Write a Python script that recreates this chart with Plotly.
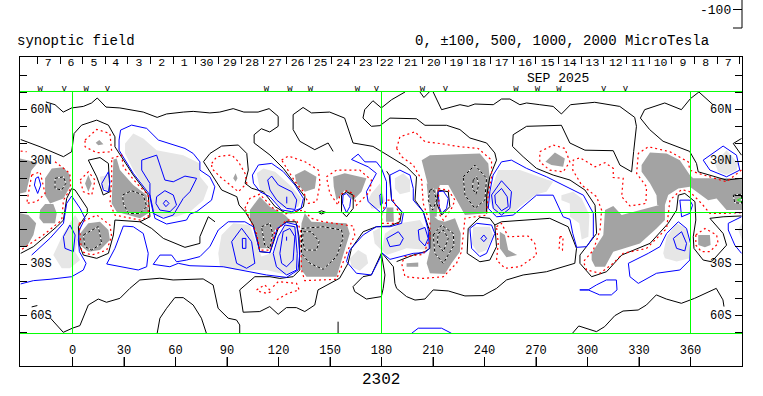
import plotly.graph_objects as go

FONT = "Liberation Mono"
BLACK, BLUE, RED, GREEN = "#000000", "#0000ff", "#ff0000", "#00ff00"
DARK, LIGHT = "#a3a3a3", "#e6e6e6"

# ---- tick labels and annotations ----
lon_ticks = [0, 30, 60, 90, 120, 150, 180, 210, 240, 270, 300, 330, 360]
lat_ticks = list(range(-80, 81, 10))
day_ticks = [-20.5, -7.3, 5.9, 19.1, 32.3, 45.5, 58.7, 71.9, 85.1, 98.3, 111.5, 124.7, 137.9, 151.1, 164.3, 177.5,
             190.7, 203.9, 217.1, 230.3, 243.5, 256.7, 269.9, 283.1, 296.3, 309.5, 322.7, 335.9, 349.1, 362.3, 375.5, 388.7]
day_labels = ["7", "6", "5", "4", "3", "2", "1", "30", "29", "28", "27", "26", "25", "24", "23",
              "22", "21", "20", "19", "18", "17", "16", "15", "14", "13", "12", "11", "10", "9", "8", "7"]
day_centers = [-14.1, -0.9, 12.5, 25.1, 38.7, 52, 65.1, 78.1, 91.7, 104.7, 117.9, 131.1, 144.5, 157.7, 170.9,
               183, 197.1, 210.5, 223.7, 236.9, 250.1, 263.7, 276.8, 289.7, 302.9, 316.5, 329.5, 342.6, 355.6, 368.8, 382]
mark_lons = [-18.9, -4.8, 7.9, 20.3, 113, 126.6, 138.6, 166, 177, 203.9, 217.3, 258.3, 270.9, 283.3, 309.5, 322.1]
mark_kinds = ["w", "v", "w", "v", "w", "w", "w", "w", "v", "w", "v", "w", "w", "w", "v", "v"]
lat_label_text = ["60N", "30N", "30S", "60S"]
lat_label_vals = [60, 30, -30, -60]

# ---- zero-level contour lines (lon, lat in degrees) ----
zero_lines = [
    [(-15.5,64.4),(-10.2,62.8),(-5.4,58.5),(-0.5,60.9),(6.3,61.8),(11.1,63.8),(14.4,66.7),(19.5,61.4),(27.6,60.9),
     (33.4,59.9),(41.2,58.5),(49.3,55.4),(54.8,57.4),(64.5,58.5),(70.3,58.9),(80,58),(85.8,58.5),(93.6,60.5),(99.8,58.5),
     (108.1,58.5),(114.5,60.5),(119.8,56),(119.8,50.2),(114.9,46.9),(110,48.8),(105.8,45.3),(105.8,40.5),(115,33.5),
     (122.8,25.7),(128.6,18),(135.4,9.2),(134.5,3.4),(129.6,-0.1),(123.8,-0.1),(118,3.4),(111.2,12.1),(104.4,14.1),
     (100.5,17),(102.4,24.7),(101.5,34.4),(96.6,39.3),(86.9,38.7),(80.1,34.4),(76.3,29.6),(81.1,21.8),(86.9,13.1),
     (95.7,9.2),(97,4.4),(100.5,0.5),(105.3,-7.3),(107.2,-14.1),(109.1,-22.8),(115,-23.4),(117.9,-14.1),(119.8,-9.3),
     (124.7,-5.4),(130.1,-5.4),(132,-14.1),(132.4,-33.5),(128.5,-37.4),(120.8,-38.4),(115,-37.4),(106.2,-37.4),(97.4,-45.1),
     (99.4,-58.1),(109.1,-57.7),(114.9,-54.8),(119.8,-59.3),(124.6,-55.4),(130.4,-55.4),(135.3,-57.7),(141.1,-53.9),
     (143,-45.1),(155.6,-38.3),(160.5,-29.6),(162.5,-20.9),(169.3,-11.2),(177,-8.3),(184.8,-7.9),(190.7,-5.4),(191.7,0.5),
     (185.9,7.2),(184.5,21.8),(183,24)],
    [(-23.8,-55),(-20.5,-54.2)],
    [(-12.8,-61.6),(-5.4,-69.8),(-0.1,-67.4),(4.3,-65.9),(9.2,-53.9),(15,-50.4),(19.8,-52.3),(27.6,-50),(33.4,-44.2),
     (39.2,-39.3),(50.9,-38.3),(58.6,-39.3),(76.1,-38.7),(81.9,-42.2),(84.8,-55.8),(90.7,-61.6),(95.5,-62.6),(97.4,-65.5),(97.4,-70.4)],
    [(49.3,-70.4),(50.9,-61.6),(54.8,-55.8),(59.6,-49.6),(64.5,-49.6),(70.3,-53.9),(75.1,-61.6),(78,-70.4)],
    [(154.7,-63.6),(154.7,-70.4)],
    [(180.1,-23.4),(186.9,-31.6),(187.8,-41.3),(188.8,-44.2),(194.6,-49),(199.5,-51),(205.3,-50.4),(210.1,-45.1),
     (218.9,-45.7),(228.6,-48.6),(239.2,-48.4),(247,-44.2),(252.8,-39.3),(262.5,-36.4),(276.1,-34.5),(292.6,-29.6),
     (293.6,-20.9),(288.7,-8.3),(278,-3.4),(260.6,-4.4),(249.9,-5.4),(246,-7.3),(243.1,-3.4),(237.3,-2.8),(230.5,-9.3),
     (229.9,-23.8),(237.3,-28.7),(243.1,-27.7),(247,-19.9),(246,-7.3)],
    [(193.7,70.2),(185.9,65.7),(179.9,60.9),(175,65.1),(170.2,59.9),(169.2,55),(174.1,50.2),(179.1,50.6),(184.9,55),
     (200.4,54.6),(205.3,50.8),(217.9,50.8),(225.7,48.3),(231.5,43.4),(241.2,40.5),(246,34.7),(247,30.5),(243.1,20.8),
     (241.2,9.2),(241.2,-0.5)],
    [(151.8,35.6),(148.9,40.5),(141.1,36.6),(132.4,41.5),(128.5,48.3),(128.5,57),(134.3,61.2),(139.2,58),(149.8,58.5),
     (158.5,55),(163.4,40.5),(175,38.5),(179.9,35.6),(186.9,31.5),(194.6,26.6),(200.4,20.8),(199.5,7.2),(204.3,0.5),
     (208.2,-11.2),(208.2,-20.9),(205.3,-22.8),(198.5,-24.8),(188.8,-28.6)],
    [(202.4,70.2),(204.7,67),(207.8,70.2)],
    [(210.1,70.2),(215,59.9),(225.7,62.8),(230.5,61.8),(234.4,63.2),(245.1,62.8),(249.9,66.1),(254.8,66.1),(260.6,62.8),
     (264.5,63.8),(272.2,62.8),(280,61.8),(284.8,57.4),(290.1,62.8),(304.2,64.2),(318.8,61.8),(327.5,55.4),(328.5,50.2),
     (326.9,35.6),(325.7,23.7),(318.9,27.6),(315,36),(298.5,36.3),(289.7,40.5),(284.8,50.8),(264.5,50.2),(256.7,45.3),
     (256.3,38.5),(262.5,32.5),(270.3,25.7),(280,21.8),(289.8,18.9),(298.5,13.1),(304.4,4.3),(305.3,-12.2),(295.6,-24.8),
     (295.6,-29.6),(302.4,-37.4),(311.1,-34.5),(319.9,-24.8),(336.4,-18),(347,-6.3),(351.9,1.4),(352.9,10.1),(356.7,11.1),
     (362.6,6.3),(363.1,-4.4),(361.6,-14.1),(362,-20.9),(367.4,-27.7),(372.3,-28.7),(381,-19),(379,-12.2),(371.3,-3.4),
     (379,-2.5),(389.7,-2)],
    [(373.1,62.8),(364.9,70.2),(359.9,66.3),(354.7,59.9),(345,63.8),(333.3,59.9),(330.8,55),(336.2,48.3),(344,41.5),
     (359.5,35.6),(363.5,28.6),(364.5,23.7),(381,18.9),(389.7,19.9)],
    [(389.7,43.1),(384.9,40.2),(389.7,33.4)],
    [(-30.2,42.5),(-18.9,38.3),(-5.3,32.5),(-0.5,35.4),(0.9,46),(5.3,50.9),(14.1,53.8),(20.9,50.9),(24.7,44.1),(24.7,38.3),
     (35.4,21.8),(44.1,10.2),(45.1,-2.5),(39.3,-5.4),(24.7,-4.4),(23.8,-13.1),(20.9,-23.8),(14.1,-26.7),(6.3,-24.8),(4,-19),
     (3.4,-8.3),(8.6,-0.5),(8.6,2.4),(1.5,13.1),(-0.5,14),(-3.4,8.2),(-5.3,-4.4),(-9.2,-8.3),(-22.8,-19.9),(-30.2,-23.8)],
    [(39.3,-5.4),(46.1,-9.3),(52.9,-15.1),(60.6,-18.4),(65.5,-20.3),(74.2,-18),(74.2,-14.1),(79.1,-2.5),(83,-5.4)],
    [(291.2,-70.4),(294.9,-66.1),(305.2,-69.4),(310,-66.5),(315.9,-60.1),(320.7,-57.4),(329.5,-56.8),(334.3,-53.9),
     (340.1,-48),(345.9,-50.4),(354.7,-52.9),(362.4,-50),(375,-44.2),(378.9,-50.9),(379.5,-54.8)],
]
zero_loops = [
    [(179.9,-49),(171.2,-50.4),(164.4,-46.1),(163.4,-43.2),(169.2,-37.4),(174.1,-36.4),(179.9,-23.8),(182,-36.4),(181,-44.2)],
    [(9.2,30.5),(16,32),(20.9,28.6),(21.8,12.1),(17.9,10.2),(14.1,20.8)],
    [(156.7,10.1),(159.6,12.1),(163.5,10.1),(163.5,2.4),(159.6,-2.5),(156.7,0.5)],
    [(143.1,0.1),(145,1),(147.4,0.1),(145,-0.9)],
    [(213,13.1),(218.9,12.1),(219.8,3.4),(215,-1.5),(212.1,5.3)],
]

# ---- positive contours ----
pos_lines = [
    [(-30.2,-41.6),(-22.8,-39.7),(-13.1,-38.9),(-0.5,-37.4),(6.3,-33.5),(7.9,-29.6),(4,-22.8),(3.4,-16),(4,-10.2),(7.3,-3.4),
     (4.4,2.4),(-0.5,9.6),(-3.4,5.3),(-5.3,-6.3),(-13.1,-15),(-23.8,-24.8)],
    [(184.9,21.8),(185.9,7.2),(192.7,-0.5),(191.7,-6.3),(185,-8.3),(177,-8.3),(169.3,-13.1),(161.5,-21.9),(159.6,-28.6),
     (165.4,-35.4),(174.1,-36.4),(180.5,-23.8)],
    [(184.9,21.8),(190.7,24.7),(196.6,21.8),(198.5,14),(198.5,7.2),(204.3,0.5),(207.2,-10.2),(207.8,-20.9),(205.3,-23.4),
     (198.5,-23.8),(184.9,-27.3),(180.1,-23.4)],
    [(124.8,9.2),(124.8,5.3)],
    [(124.7,-14.1),(124.7,-16.4)],
    [(197.5,-70.4),(201.4,-67.4),(215,-67.4),(220.8,-70.4)],
    [(382,-6.3),(385.8,-4.4),(389.7,-2.5)],
    [(389.7,-23.8),(385.8,-19),(382,-10.2),(382,-6.3)],
]
pos_loops = [
    [(27.1,42.2),(28,48),(34.4,50.9),(43.2,49),(50,42.2),(65.5,37.3),(70.3,34.4),(74.2,29.5),(74.2,24.7),(80,20.8),(82.9,15),
     (81,7.2),(72.3,0.5),(68.4,-0.9),(66.4,-4.4),(54.8,-6.7),(48,-3.4),(45.1,10.2),(35.4,22.8),(27.1,36.3)],
    [(40.3,30.5),(49,33.4),(53.8,18.9),(58.7,17.9),(65.5,21.2),(72.3,19.9),(68.4,12.1),(64.5,8.2),(58.7,-1.5),(52.9,-3.4),
     (47,-0.5),(45.1,9.2),(45.1,16.9),(40.3,24.7)],
    [(49,9.2),(53.8,12.7),(58.7,10.2),(60.6,4.3),(56.8,0.5),(50.9,1.4),(48.6,5.3)],
    [(52.9,5.3),(54.4,7.2),(56.2,5.3),(54.4,3.4)],
    [(-1.5,-7.3),(-5.3,-14.1),(-4.4,-20.9),(0.5,-22.8),(1.5,-13.1)],
    [(17,16.9),(20.9,23.7),(21.8,17.9),(20.9,12.1),(18,13)],
    [(-21.4,19.9),(-19.9,20.8),(-18.5,16),(-20.3,11.1),(-22.2,16)],
    [(24.7,-20.9),(29.6,-7.9),(35.4,-8.3),(41.2,-12.2),(44.1,-23.8),(43.2,-31.6),(38.3,-33.5),(19.9,-30)],
    [(74.2,-25.7),(80,-19.9),(84.9,-10.2),(90.7,-5.4),(100.4,-5.4),(105.3,-8.3),(109.1,-22.8),(115,-23.4),(119.2,-9.3),
     (124.7,-5.8),(130.9,-7.3),(132.4,-23.8),(131.4,-33.5),(124.7,-37.8),(113,-36.4),(103.3,-34.5),(87.8,-31.6),(68.4,-31),
     (61.6,-29.6),(56.7,-31.6),(47,-30.2),(50.9,-24.8),(57.7,-24.8),(60.6,-28.7),(66.4,-27.7)],
    [(92.7,-17),(98.5,-9.2),(104.3,-17),(106.2,-29.6),(101.4,-32.5),(95.6,-29.6)],
    [(98.9,-15.1),(101,-15.1),(101,-20.9),(99,-20.9)],
    [(116.9,-23.8),(119.8,-14.1),(123.7,-7.3),(129.5,-8.3),(130.9,-23.8),(130.5,-33.5),(124.7,-36.4),(118.8,-31.6)],
    [(120.8,-23.8),(122.7,-11.2),(126.6,-9.3),(129.5,-14.1),(128.5,-27.7),(124.7,-31.6),(121.8,-29.6)],
    [(104.8,21.8),(108.3,27.7),(116,28.6),(122.8,23.8),(129.6,16),(134.5,8.2),(133.1,2.4),(127.7,0.5),(121.8,1.5),(115,9.2),
     (109.2,12.1),(105.4,17)],
    [(113.7,18.9),(116,21.2),(119.9,16),(127.7,12.1),(130.6,7.3),(129.6,1.8),(124.8,2.4),(118.9,7.3),(115,13.1)],
    [(162.5,30.9),(166.4,34),(170.3,29.5),(177,29.5),(180,25.7),(182.9,17.9),(182.9,3.4),(180,-0.5),(172.2,6.3),(171.2,12.1),
     (177,22.8),(172.2,26.6)],
    [(179,10.2),(180,11.1),(180.5,5.3),(179.4,4.3)],
    [(157.6,10.2),(159.6,11.1),(162.1,8.2),(161.5,3.4),(159.6,-0.1),(157.3,5.3)],
    [(183,-15.1),(189.8,-11.2),(192.7,-15.1),(190.7,-18.9),(184.9,-19.9)],
    [(201.4,-10.2),(205.3,-8.7),(207.2,-15.1),(205.3,-19.5),(202,-16)],
    [(213,12.1),(216,12.5),(218.9,8.2),(217.9,2.4),(215,-0.5),(213.6,3.4)],
    [(231.5,-9.3),(235.4,-6.3),(244.1,-7.3),(246,-12.2),(241.2,-23.8),(237.3,-25.7),(232.5,-20.9)],
    [(237.9,-15.1),(239.6,-13.1),(241.2,-15.1),(239.6,-17)],
    [(242.2,2.4),(243.1,12.1),(245,21.8),(249.9,29.5),(255.7,30.5),(264.5,25.7),(276.1,20.8),(289.7,14),(297.6,10.1),(303.4,-0.5),
     (303.4,-14.1),(299.5,-19.9),(293.7,-20.3),(291.4,-12.2),(289.8,-4),(285.8,-2.5),(280,10.1),(270.3,10.1),(256.7,-1.5),(247,-2.5)],
    [(244.1,10.2),(249.9,18.5),(255.7,12.1),(254.8,2.4),(249.9,-1.5),(245.1,2.4)],
    [(246,10.2),(249.9,14),(253.2,9.2),(253.8,3.4),(249.9,1),(246.4,5.3)],
    [(295.5,-45.1),(300.4,-45.1),(305.2,-42.2),(311,-39.3),(316.8,-39.3),(317.2,-45.1),(313.9,-48),(307.1,-48),(300.4,-45.1)],
    [(323.8,-29.6),(324.7,-37.4),(329.6,-41.3),(340.2,-35.4),(353.8,-33.5),(359.6,-27.7),(360,-18),(357.7,-9.3),(352.9,-5.4),
     (346.1,-12.2),(342.2,-19.9),(335.4,-23.8)],
    [(350,-15.1),(354.8,-11.2),(357.7,-18),(356.7,-22.4),(351.9,-20.9)],
    [(353.8,7.2),(359.6,7.2),(361.2,4.3),(359.6,-0.5),(354.8,-2.5)],
    [(367.4,30.5),(379,38.7),(386.8,33.4),(388.7,24.7),(381,20.8),(371.3,24.7)],
]

# ---- negative contours (dotted red) ----
neg_lines = [
    [(-30.2,35.8),(-26.7,35.4)],
    [(-10.2,29.6),(-1.5,22.8),(-1.1,14),(-5.3,7.2),(-6.3,-4.4),(-17,-13.1),(-30.2,-21.9)],
    [(116.9,-43.2),(119.8,-40.3),(130.5,-41.3),(132,-45.1),(125.6,-47.1),(118.8,-51)],
    [(389.7,24.7),(381,17.9),(364.5,22.8),(359.6,24.7),(358.7,29.5),(348,35.4),(335.4,38.3),(329.6,34.4),(328.6,22.8),(334.4,15),
     (334,5.3),(324.7,3.8),(319.9,9.2),(320.8,19.9),(315,20.4),(315,25.7),(310.2,29),(304.4,26.6),(295.6,31.9),(291.7,30.5),
     (291.4,24.7),(296.6,16),(305.3,9.2),(308.2,1.4),(307.3,-10.2),(303.4,-21.9),(297.6,-28.6),(299.5,-33.5),(307.3,-35.4),
     (315,-29.6),(320.8,-23.8),(334.4,-20.9),(346.1,-9.3),(348,7.2),(354.8,13.4),(359.6,12.1),(366.4,5.3),(371.3,-0.5),(381,-0.5),(389.7,-0.1)],
]
neg_loops = [
    [(7.3,42.2),(14.1,48.4),(21.8,46),(22.8,35.4),(14.1,34.8),(7.3,38.3)],
    [(4.4,18.9),(9.2,23.7),(13.1,18.9),(11.2,10.2),(6.3,12.1)],
    [(-23.8,21.8),(-18.9,23.7),(-16,11.1),(-20.9,6.3),(-26.7,5.3),(-24.7,17)],
    [(22.8,31.5),(28.6,33.4),(29.6,26.6),(37.3,17),(44.1,10.2),(44.1,-2.5),(39.3,-4.4),(24.7,-1.5),(21.8,5.3),(22.8,18.9)],
    [(3.8,-6.3),(14.1,-1.5),(21.8,-7.3),(22.8,-14.1),(19.9,-21.9),(11.2,-24.8),(5.3,-22.8),(4.4,-14.1)],
    [(81.1,28.6),(84,32.5),(92.7,33.5),(96.6,29.6),(100.5,22.8),(101.5,17),(96.6,12.1),(90.8,17),(85.9,20.9),(81.1,25.7)],
    [(121.8,30.6),(125.7,32.9),(135.4,29.6),(143.2,24.7),(144.2,17),(142.2,6.3),(137.4,5.3),(134.5,12.1),(129.6,18),(125.7,24.7)],
    [(100.4,2.4),(103.3,8.2),(109.1,10.7),(116.9,2.4),(123.7,-0.9),(134.4,1.4),(139.2,-3.4),(146,-5.4),(163.5,-7.9),(164.4,-13.1),
     (159.6,-23.8),(153.8,-38.9),(135.3,-39.7),(133.4,-33.5),(132.8,-10.2),(130.5,-4.4),(124.7,-4.4),(117.9,-11.2),(115,-21.9),
     (109.1,-21.9),(107.2,-12.2),(104.3,-6.3)],
    [(147.9,20.8),(153.8,24.7),(167.3,24.7),(174.1,18.9),(173.2,12.1),(165.4,4.3),(163.5,11.1),(159.6,12.7),(155.7,10.1),(154.7,4.3),(149.9,11.1)],
    [(107.2,-45.1),(112,-42.2),(115.9,-46.1),(113,-47.1),(109.1,-46.1)],
    [(180.1,-0.5),(183,7.2),(186.9,7.2),(190.7,-1.5),(189.8,-6.3),(180.1,-6.3)],
    [(188.8,37.3),(190.7,44.1),(199.5,47),(205.3,41.2),(214,40.2),(225.7,38.3),(236.3,37.3),(244.1,30.5),(244.1,20.8),(242.2,11.1),
     (241.2,-1.5),(228.6,-3.4),(226.6,-22.8),(223.7,-29.6),(216,-37.4),(204.3,-38.4),(193.7,-37.4),(191.7,-29.6),(193.7,-25.7),
     (204.3,-24.4),(208.2,-15.1),(208.2,-6.3),(204.3,5.3),(203.4,18.9),(198.5,27.6),(191.7,32.5)],
    [(213,14),(218.9,13),(222.8,7.2),(220.8,2.4),(216,-4.4),(214,-1.5)],
    [(247,-8.3),(249.9,-6.3),(253.8,-14.1),(265.4,-13.7),(269.3,-18),(270.3,-24.8),(260.6,-31.6),(251.9,-32.5),(247,-27.7),(248,-18)],
    [(283.9,-14.1),(285.8,-14.1),(285.4,-21.9),(283.5,-20.9)],
    [(272.2,35.4),(280,39.3),(286.8,37.3),(289.7,29.5),(285.8,23.7),(278,24.7),(272.2,29.5)],
    [(363.1,-13.1),(368.4,-9.3),(375.2,-13.1),(376.1,-18),(371.3,-22.8),(366.4,-22.8),(363.1,-19)],
]

# ---- strongest negative contours (black and white dashes) ----
strong_neg_loops = [
    [(-10.2,19.9),(-5.3,20.8),(-3.9,17),(-6.3,13.1),(-10.2,14)],
    [(29.2,10.2),(34.4,12.7),(41.2,10.2),(43.2,3.4),(39.3,-0.5),(32.5,-0.5),(29.6,5.3)],
    [(6.3,-13.1),(15,-8.2),(17,-18),(11.2,-21.9),(7.3,-19.9)],
    [(110.1,-8.3),(115,-6.3),(116.5,-12.2),(115,-20.9),(112,-19)],
    [(133.4,-9.3),(146,-8.3),(156.7,-10.2),(157.6,-15),(153.8,-25.7),(146,-33.1),(138.2,-29.6),(133.4,-23.8)],
    [(134.4,-11.2),(139.2,-11.2),(143.7,-17),(142.1,-21.9),(135.3,-21.9),(134,-16)],
    [(208.2,13),(210.1,14),(212.1,7.2),(209.8,1.4),(207.2,7.2)],
    [(227.6,20.8),(234.4,27.6),(241.2,19.9),(240.2,7.2),(234.4,2.4),(228.6,10.1)],
    [(233.4,18.9),(235.4,20.8),(236.7,16),(235,10.7),(233,14)],
    [(210.1,-13.1),(215,-7.3),(221.8,-12.2),(222.2,-19),(216,-29.6),(211.1,-23.8)],
    [(213,-12.2),(216,-10.2),(218.9,-15.1),(216,-22.8),(212.5,-18)],
    [(384.9,10.1),(389.7,10.7),(389.7,5.3),(385.8,5.7)],
]

# ---- shaded areas ----
dark_patches = [
    [(-30.6,31.5),(-20.3,29),(-24,24.5),(-26,17),(-27,12),(-30.6,11)],
    [(-16,19.9),(-12.1,25.7),(-5.3,26.3),(-1.5,21.8),(-1.5,15),(-5.3,8.2),(-13.1,5.3),(-16,10)],
    [(-18.9,1.4),(-16,4.9),(-11.2,4.9),(-9.2,-0.5),(-10.2,-6.3),(-17,-6.3),(-19.3,-3.4)],
    [(-30.6,-0.5),(-25.7,-1.5),(-21.2,-6.3),(-22.8,-13.1),(-26.7,-19.9),(-30.6,-19.9)],
    [(13.5,40.6),(15.6,42.2),(18,39.8),(15,39.2)],
    [(9.2,21.8),(11.2,16.9),(9.2,12.1),(7.3,16.9)],
    [(23.8,30.9),(25.7,31.5),(27.6,24.7),(35.4,16),(43.2,10.2),(44.1,-0.5),(39.3,-3.4),(25.7,0.5),(22.8,5.3)],
    [(4.4,-12.2),(9.2,-6.3),(16,-5.4),(20.9,-10.2),(21.8,-16),(16,-21.9),(9.2,-22.8),(4.4,-19)],
    [(93.6,19.9),(95,22.8),(96.1,19.9),(95,17.9)],
    [(129.5,21.8),(135.3,24.7),(142.1,20.8),(141.2,14),(135.3,12.1),(130.5,16.9)],
    [(151.8,20.8),(158.6,22.8),(171.2,19.9),(168.3,12.1),(163.5,7.2),(158.6,13),(153.8,7.2),(152.2,15)],
    [(103.3,1.4),(109.1,9.2),(115,3.4),(123.7,-1.5),(126.6,-4.4),(117.9,-10.2),(115.9,-20.9),(108.2,-20.9),(107.2,-11.2),(103.3,-4.4)],
    [(133.4,-6.3),(135.3,-0.5),(139.2,-5.4),(159.6,-6.3),(161.5,-12.2),(158.6,-21.9),(153.8,-37.4),(136.3,-37.4),(133.4,-33.5),(132.8,-18)],
    [(182.6,-1.5),(183,2.9),(186.9,2.9),(187.2,-5.4),(182.6,-5.4)],
    [(203.4,30.5),(208.2,33.4),(237.3,34.4),(242.2,28.6),(243.1,18.9),(241.6,-0.5),(228.6,-1.5),(223.7,7.2),(218.9,16),(214,16),
     (213,13),(211.1,14),(207.2,15),(206.3,18.9)],
    [(208.2,-0.5),(213,-4.4),(216.9,-5.4),(222.8,-3.4),(226.2,-12.2),(225.7,-22.8),(220.8,-29.6),(216.9,-35.8),(208.2,-35.4),(206.3,-29.6),(208.2,-21.9)],
    [(206.3,16.9),(211.1,15),(213,7.2),(212.1,-2.5),(208.2,-2.5)],
    [(194.6,-29.6),(201.4,-29.2),(201.4,-31.6),(194.6,-31.6)],
    [(248.9,-11.2),(251.9,-13.1),(253.8,-21.9),(259,-24.8),(252.8,-26.1),(248.9,-20.9)],
    [(275.5,29.5),(281,35),(286.8,31.5),(285.8,26.6),(279,27.6)],
    [(331.5,27.6),(336.4,35),(346.1,34.4),(353.8,30.5),(359.6,21.8),(361.6,19.9),(390,19.9),(390,1.4),(381,1.4),(375.2,8.2),
     (370.3,7.2),(363.5,12.1),(359.6,15),(352.9,14),(347,10.2),(345.1,4.3),(340.6,4.3),(340.2,10.1),(336.4,17),(331.5,23.7)],
    [(302.4,-23.8),(309.2,-13.1),(310.2,1.4),(315,3.8),(319.9,-1.5),(330.5,1.4),(345.1,5.3),(345.1,-4.4),(340.2,-9.3),(330.5,-18),
     (315,-22.8),(310.2,-31.6),(304.4,-31.6),(302.4,-27.7)],
    [(364.5,-13.1),(371.3,-13.1),(371.7,-19),(368.4,-20.3),(364.5,-19)],
]
light_patches = [
    [(30.6,40.2),(35.4,46),(41.2,43.1),(49,36.3),(64.5,33.4),(74.2,28.6),(74.2,21),(79.1,15),(76.2,7.2),(68.4,0.5),(60.6,-2.5),(49,-2.5),
     (45.1,5.3),(44.1,11.1),(35.4,24.7),(30.6,34.4)],
    [(1.5,-1.5),(5.3,-7.3),(1.5,-22.8),(4.4,-27.7),(-1.5,-32.5),(-6.3,-32.5),(-11.2,-24.8),(-5.3,-12.2)],
    [(16,20.8),(20.9,21.8),(20.9,13),(17,14)],
    [(107.3,22.8),(111.2,25.7),(118,23.8),(127.7,15),(133.5,8.2),(131.5,3.4),(125.7,1.5),(120.9,3.4),(115,10.2),(109.2,13.1)],
    [(84.9,-23.8),(86.8,-13.1),(93.6,-6.3),(103.3,-7.3),(107.2,-18),(110.1,-25.7),(117.9,-22.8),(119.8,-13.1),(124.7,-6.3),(130.5,-8.3),
     (131.5,-31.6),(124.7,-36.4),(113,-33.5),(95.6,-33.5),(85.9,-31.6)],
    [(161.5,-26.7),(166.4,-21.9),(171.2,-24.8),(172.2,-29.6),(167.3,-33.9),(162.5,-31.6)],
    [(172.2,7.2),(174.1,11.1),(179,16.9),(181.9,7.2),(179,2.4),(174.1,2.4)],
    [(180.1,-21.9),(182,-12.2),(190.7,-6.3),(202.4,-4.4),(207.2,-12.2),(207.2,-21.9),(194.6,-20.9),(183,-24.8)],
    [(175,-11),(179,-9),(180,-22),(176,-18)],
    [(187.8,19.9),(192.7,22.8),(196.6,18.9),(196.6,12.1),(190.7,10.7),(187.8,14)],
    [(242.2,9.2),(248,24.7),(260.6,24.7),(272.2,20.8),(280,17.9),(276.1,12.1),(270.3,10.7),(260.6,3.4),(256.7,-0.5),(246,-1.5)],
    [(284.8,10.1),(291.6,12.1),(296.6,8.2),(301.1,-1.5),(300.5,-14.1),(296.6,-15.7),(295.2,-6.3),(289.8,-2.5),(289.7,5.3),(284.8,7.2)],
    [(233.4,-8.3),(243.1,-8.3),(245.1,-13.1),(241.2,-21.9),(236.3,-23.8),(232.5,-18)],
    [(344.1,-23.8),(346.1,-14.1),(351.9,-6.3),(357.7,-9.3),(359.6,-19.9),(359.6,-26.7),(351.9,-28.6),(345.1,-26.7)],
    [(374.2,28.6),(381,36.3),(387.8,28.6),(386.8,24.7),(381,21.8),(376.1,23.7)],
    [(387.8,-10.2),(390,-6.3),(390,-16)],
]


def flatten(lines=(), loops=()):
    xs, ys = [], []
    for path in list(lines) + [list(p) + [p[0]] for p in loops]:
        xs += [p[0] for p in path] + [None]
        ys += [p[1] for p in path] + [None]
    return xs, ys


def add_fill(patches, color):
    x, y = flatten(loops=patches)
    fig.add_trace(go.Scatter(x=x, y=y, mode="lines", fill="toself", fillcolor=color,
                             line=dict(width=0), hoverinfo="skip", showlegend=False))


def add_lines(lines, loops, color, dash="solid", width=1):
    x, y = flatten(lines, loops)
    fig.add_trace(go.Scatter(x=x, y=y, mode="lines", line=dict(color=color, width=width, dash=dash),
                             hoverinfo="skip", showlegend=False))


X_RANGE = [-30.6, 390.0]
Y_RANGE = [-89.42, 90.58]

fig = go.Figure()
add_fill(light_patches, LIGHT)
add_fill(dark_patches, DARK)
add_lines(zero_lines, zero_loops, BLACK)
add_lines(pos_lines, pos_loops, BLUE)
add_lines(neg_lines, neg_loops, RED, dash="2px,3px", width=1.2)
add_lines([], strong_neg_loops, "#ffffff", width=1)
add_lines([], strong_neg_loops, BLACK, dash="3px,2px", width=1)

# grid guides: limits of the mapped band and the reference meridians
band = 70.5
guide_x = [X_RANGE[0], X_RANGE[1], None, X_RANGE[0], X_RANGE[1], None, X_RANGE[0], X_RANGE[1], None, 0, 0, None, 180, 180, None, 360, 360]
guide_y = [band, band, None, -band, -band, None, 0, 0, None, band, -band, None, band, -band, None, band, -band]
fig.add_trace(go.Scatter(x=guide_x, y=guide_y, mode="lines", line=dict(color=GREEN, width=1),
                         hoverinfo="skip", showlegend=False))

# longitude tick marks rising from the bottom edge, one for each labelled longitude
tick_x, tick_y = [], []
for t in lon_ticks:
    tick_x += [t, t, None]
    tick_y += [Y_RANGE[0], Y_RANGE[0] + 5.2, None]
fig.add_trace(go.Scatter(x=tick_x, y=tick_y, mode="lines", line=dict(color=BLACK, width=1),
                         hoverinfo="skip", showlegend=False))

txt = dict(mode="text", hoverinfo="skip", showlegend=False, cliponaxis=False)
fig.add_trace(go.Scatter(x=[-18.4] * 4, y=lat_label_vals, text=lat_label_text,
                         textfont=dict(family=FONT, size=12, color=BLACK), **txt))
fig.add_trace(go.Scatter(x=[377.7] * 4, y=lat_label_vals, text=lat_label_text,
                         textfont=dict(family=FONT, size=12, color=BLACK), **txt))
fig.add_trace(go.Scatter(x=mark_lons, y=[72.3] * len(mark_lons), text=mark_kinds,
                         textfont=dict(family=FONT, size=9, color=BLACK), **txt))
fig.add_trace(go.Scatter(x=[-31.3, 388.5], y=[6, 7], text=[">", "<"],
                         textfont=dict(family=FONT, size=9, color=GREEN), **txt))
fig.add_trace(go.Scatter(x=day_centers, y=[87] * len(day_centers), text=day_labels, xaxis="x2",
                         textfont=dict(family=FONT, size=11.5, color=BLACK), **txt))

fig.update_layout(
    width=763, height=396, autosize=False, margin=dict(l=0, r=0, t=0, b=0),
    paper_bgcolor="white", plot_bgcolor="white", showlegend=False,
    xaxis=dict(domain=[20 / 763, 742 / 763], range=X_RANGE, tickvals=lon_ticks, ticks="inside", ticklen=9,
               tickcolor=BLACK, tickwidth=1, ticklabelposition="inside", showgrid=False, zeroline=False, showline=True,
               linecolor=BLACK, linewidth=1, mirror=True, tickfont=dict(family=FONT, size=12, color=BLACK)),
    xaxis2=dict(domain=[20 / 763, 742 / 763], range=X_RANGE, overlaying="x", side="top", tickvals=day_ticks,
                ticks="inside", ticklen=7, tickcolor=BLACK, showticklabels=False, showgrid=False, zeroline=False, anchor="y"),
    yaxis=dict(domain=[30 / 396, 339 / 396], range=Y_RANGE, tickvals=lat_ticks, ticks="inside", ticklen=7,
               tickcolor=BLACK, showticklabels=False, showgrid=False, zeroline=False, showline=True,
               linecolor=BLACK, linewidth=1, mirror="ticks"),
    annotations=[
        dict(text="synoptic field", x=15 / 763, y=1 - 41 / 396, xref="paper", yref="paper", xanchor="left", yanchor="middle",
             showarrow=False, font=dict(family=FONT, size=14, color=BLACK)),
        dict(text="0, ±100, 500, 1000, 2000 MicroTesla", x=413 / 763, y=1 - 41 / 396, xref="paper", yref="paper",
             xanchor="left", yanchor="middle", showarrow=False, font=dict(family=FONT, size=14, color=BLACK)),
        dict(text="SEP 2025", x=558 / 763, y=1 - 78.5 / 396, xref="paper", yref="paper", xanchor="center", yanchor="middle",
             showarrow=False, font=dict(family=FONT, size=13, color=BLACK)),
        dict(text="2302", x=381 / 763, y=1 - 380 / 396, xref="paper", yref="paper", xanchor="center", yanchor="middle", showarrow=False,
             font=dict(family=FONT, size=16, color=BLACK)),
        dict(text="-100", x=733 / 763, y=1 - 10 / 396, xref="paper", yref="paper", xanchor="right", yanchor="middle", showarrow=False,
             font=dict(family=FONT, size=13, color=BLACK)),
    ],
    shapes=[
        dict(type="line", xref="paper", yref="paper", x0=742 / 763, x1=742 / 763, y0=1, y1=1 - 28 / 396, line=dict(color=BLACK, width=1)),
        dict(type="line", xref="paper", yref="paper", x0=733 / 763, x1=742 / 763, y0=1 - 28 / 396, y1=1 - 28 / 396, line=dict(color=BLACK, width=1)),
        dict(type="line", xref="paper", yref="paper", x0=733 / 763, x1=742 / 763, y0=1 - 9.5 / 396, y1=1 - 9.5 / 396, line=dict(color=BLACK, width=1)),
    ],
)
fig.write_html("out.html", post_script="document.body.style.margin='0';", config=dict(displayModeBar=False))
